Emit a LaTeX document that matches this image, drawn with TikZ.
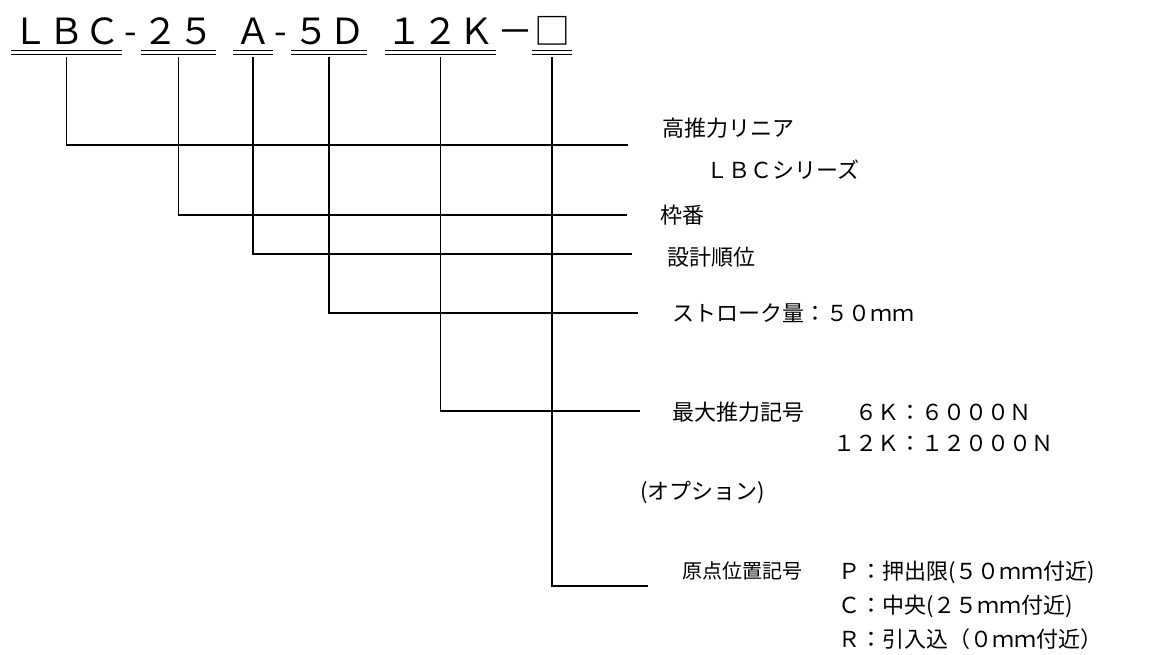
\documentclass[tikz,border=0pt]{standalone}
\usepackage{fontspec}
\setmainfont{Noto Sans CJK JP}
\usetikzlibrary{calc}

\begin{document}
\begin{tikzpicture}[x=1pt,y=-1pt,
  code/.style={font=\fontsize{36}{40}\selectfont, inner sep=1.5pt, anchor=base},
  lab/.style={font=\fontsize{22}{31}\selectfont, inner sep=0pt, anchor=west, align=left},
  uline/.style={double, double distance=2.1pt, line width=1.4pt},
  conn/.style={line width=1.3pt}]
  \useasboundingbox (0,0) rectangle (1154,655);

  % model code
  \node[code] (lbc)    at (66.5,45)  {ＬＢＣ};
  \node[code] (hyA)    at (131,45)   {-};
  \node[code] (frame)  at (178.5,45) {２５};
  \node[code] (design) at (253,45)   {Ａ};
  \node[code] (hyB)    at (281,45)   {-};
  \node[code] (stroke) at (329,45)   {５Ｄ};
  \node[code] (force)  at (440.5,45) {１２Ｋ};
  \node[code] (hyC)    at (515,45)   {－};
  \node[code] (opt)    at (552,45)   {□};

  \foreach \n in {lbc,frame,design,stroke,force,opt}
    \draw[uline] ([yshift=-7.5pt]\n.base west) -- ([yshift=-7.5pt]\n.base east);

  % line ends
  \coordinate (e1) at (628,145);
  \coordinate (e2) at (627,215);
  \coordinate (e3) at (632,254);
  \coordinate (e4) at (638,313);
  \coordinate (e5) at (640,411);
  \coordinate (e6) at (648,586);

  \foreach \n/\e in {lbc/e1,frame/e2,design/e3,stroke/e4,force/e5,opt/e6}
    \draw[conn] ([yshift=-12pt]\n.base) |- (\e);

  % descriptions
  \node[lab] (tSeries) at (662,128) {高推力リニア};
  \node[lab] (tLbc)    at (684,170) {　ＬＢＣシリーズ};
  \node[lab] (tFrame)  at (660,215) {枠番};
  \node[lab] (tDesign) at (667,257) {設計順位};
  \node[lab] (tStroke) at (672,313) {ストローク量：５０ｍｍ};
  \node[lab] (tForce)  at (672,412) {最大推力記号};
  \node[lab] (tForceV) at (833,427.5) {　６Ｋ：６０００Ｎ\\１２Ｋ：１２０００Ｎ};
  \node[lab] (tOpt)    at (640,493) {(オプション)};
  \node[lab, font=\fontsize{20}{31}\selectfont] (tOrigin) at (682,571) {原点位置記号};
  \node[lab, font=\fontsize{22}{34}\selectfont] (tOriginV) at (838,605)
    {Ｐ：押出限(５０ｍｍ付近)\\Ｃ：中央(２５ｍｍ付近)\\Ｒ：引入込（０ｍｍ付近）};
\end{tikzpicture}
\end{document}
